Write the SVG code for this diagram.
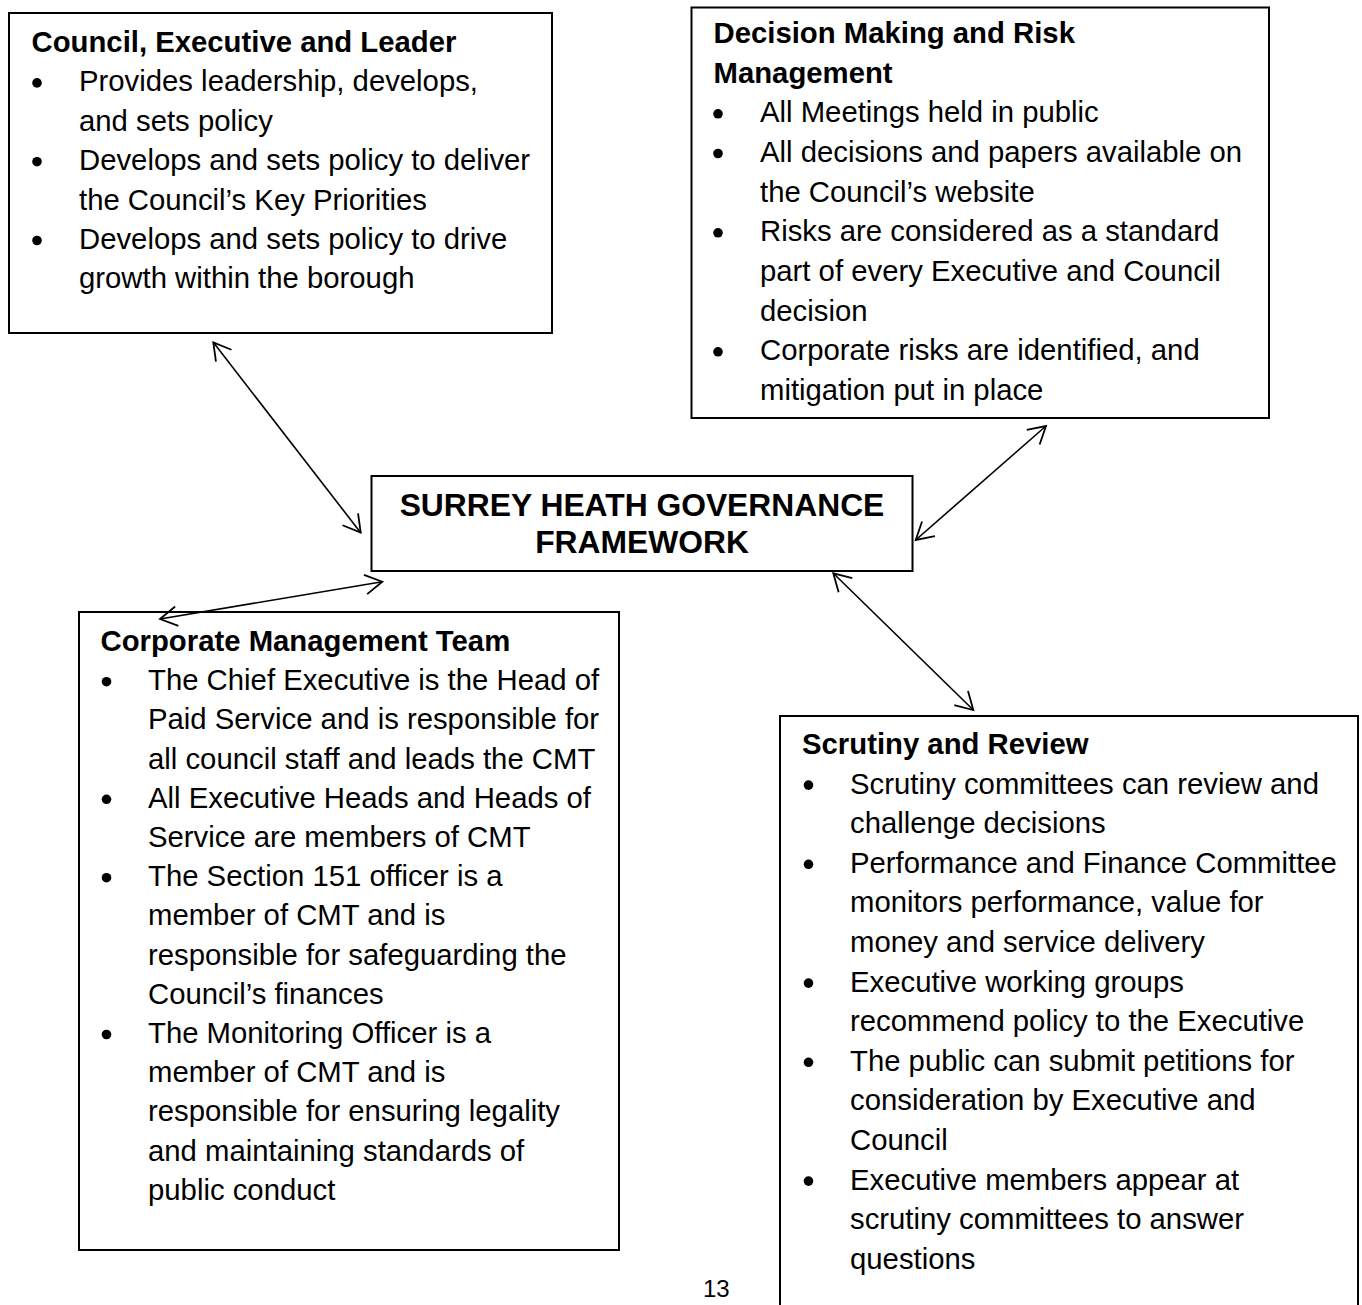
<svg xmlns="http://www.w3.org/2000/svg" width="1362" height="1305" viewBox="0 0 1362 1305">
<style>
.box{fill:none;stroke:#000;stroke-width:2}
.t{font-family:"Liberation Sans",Arial,sans-serif;font-size:29.3px;fill:#000}
.h{font-family:"Liberation Sans",Arial,sans-serif;font-size:29.3px;font-weight:bold;fill:#000}
.c{font-family:"Liberation Sans",Arial,sans-serif;font-size:31.8px;font-weight:bold;fill:#000;text-anchor:middle}
.pg{font-family:"Liberation Sans",Arial,sans-serif;font-size:24px;fill:#000}
.b{fill:#000}
.conn{stroke:#000;stroke-width:1.6;fill:none;marker-start:url(#ah);marker-end:url(#ah)}
</style>
<defs>
<marker id="ah" markerUnits="userSpaceOnUse" viewBox="-20 -12 22 24" refX="0" refY="0" markerWidth="22" markerHeight="24" orient="auto-start-reverse" overflow="visible">
<path d="M-17,-9.8 L0,0 L-17,9.8" fill="none" stroke="#000" stroke-width="1.8"/>
</marker>
</defs>
<rect width="1362" height="1305" fill="#fff"/>

<g id="council">
<rect class="box" x="9" y="13" width="543" height="320"/>
<text class="h" x="31.5" y="52">Council, Executive and Leader</text>
<circle class="b" cx="37" cy="82.9" r="4.8"/>
<text class="t" x="79" y="91.4">Provides leadership, develops,</text>
<text class="t" x="79" y="130.8">and sets policy</text>
<circle class="b" cx="37" cy="161.7" r="4.8"/>
<text class="t" x="79" y="170.2">Develops and sets policy to deliver</text>
<text class="t" x="79" y="209.6">the Council’s Key Priorities</text>
<circle class="b" cx="37" cy="240.5" r="4.8"/>
<text class="t" x="79" y="249">Develops and sets policy to drive</text>
<text class="t" x="79" y="288.4">growth within the borough</text>
</g>

<g id="decision">
<rect class="box" x="691.5" y="7.5" width="577.5" height="410.5"/>
<text class="h" x="713.5" y="43">Decision Making and Risk</text>
<text class="h" x="713.5" y="82.7">Management</text>
<circle class="b" cx="718" cy="113.8" r="4.8"/>
<text class="t" x="760" y="122.3">All Meetings held in public</text>
<circle class="b" cx="718" cy="153.5" r="4.8"/>
<text class="t" x="760" y="162">All decisions and papers available on</text>
<text class="t" x="760" y="201.7">the Council’s website</text>
<circle class="b" cx="718" cy="232.8" r="4.8"/>
<text class="t" x="760" y="241.3">Risks are considered as a standard</text>
<text class="t" x="760" y="281">part of every Executive and Council</text>
<text class="t" x="760" y="320.7">decision</text>
<circle class="b" cx="718" cy="351.8" r="4.8"/>
<text class="t" x="760" y="360.3">Corporate risks are identified, and</text>
<text class="t" x="760" y="400">mitigation put in place</text>
</g>

<g id="framework">
<rect class="box" x="371.5" y="476" width="541" height="95"/>
<text class="c" x="642" y="516">SURREY HEATH GOVERNANCE</text>
<text class="c" x="642" y="553">FRAMEWORK</text>
</g>

<g id="cmt">
<rect class="box" x="79" y="612" width="540" height="638"/>
<text class="h" x="100.5" y="651">Corporate Management Team</text>
<circle class="b" cx="106.5" cy="681.7" r="4.8"/>
<text class="t" x="148" y="690.2">The Chief Executive is the Head of</text>
<text class="t" x="148" y="729.4">Paid Service and is responsible for</text>
<text class="t" x="148" y="768.6">all council staff and leads the CMT</text>
<circle class="b" cx="106.5" cy="799.3" r="4.8"/>
<text class="t" x="148" y="807.8">All Executive Heads and Heads of</text>
<text class="t" x="148" y="847">Service are members of CMT</text>
<circle class="b" cx="106.5" cy="877.7" r="4.8"/>
<text class="t" x="148" y="886.2">The Section 151 officer is a</text>
<text class="t" x="148" y="925.4">member of CMT and is</text>
<text class="t" x="148" y="964.6">responsible for safeguarding the</text>
<text class="t" x="148" y="1003.8">Council’s finances</text>
<circle class="b" cx="106.5" cy="1034.5" r="4.8"/>
<text class="t" x="148" y="1043">The Monitoring Officer is a</text>
<text class="t" x="148" y="1082.2">member of CMT and is</text>
<text class="t" x="148" y="1121.4">responsible for ensuring legality</text>
<text class="t" x="148" y="1160.6">and maintaining standards of</text>
<text class="t" x="148" y="1199.8">public conduct</text>
</g>

<g id="scrutiny">
<path class="box" d="M780,1310 V716 H1358 V1310"/>
<text class="h" x="802" y="754">Scrutiny and Review</text>
<circle class="b" cx="808.5" cy="785.1" r="4.8"/>
<text class="t" x="850" y="793.6">Scrutiny committees can review and</text>
<text class="t" x="850" y="833.2">challenge decisions</text>
<circle class="b" cx="808.5" cy="864.3" r="4.8"/>
<text class="t" x="850" y="872.8">Performance and Finance Committee</text>
<text class="t" x="850" y="912.4">monitors performance, value for</text>
<text class="t" x="850" y="952">money and service delivery</text>
<circle class="b" cx="808.5" cy="983.1" r="4.8"/>
<text class="t" x="850" y="991.6">Executive working groups</text>
<text class="t" x="850" y="1031.2">recommend policy to the Executive</text>
<circle class="b" cx="808.5" cy="1062.3" r="4.8"/>
<text class="t" x="850" y="1070.8">The public can submit petitions for</text>
<text class="t" x="850" y="1110.4">consideration by Executive and</text>
<text class="t" x="850" y="1150">Council</text>
<circle class="b" cx="808.5" cy="1181.1" r="4.8"/>
<text class="t" x="850" y="1189.6">Executive members appear at</text>
<text class="t" x="850" y="1229.2">scrutiny committees to answer</text>
<text class="t" x="850" y="1268.8">questions</text>
</g>

<g id="connectors">
<line class="conn" x1="213.3" y1="342.3" x2="360.7" y2="532.7"/>
<line class="conn" x1="160" y1="619" x2="382.3" y2="581.7"/>
<line class="conn" x1="1046" y1="426" x2="915.7" y2="540"/>
<line class="conn" x1="833.3" y1="573.3" x2="973.3" y2="710"/>
</g>

<text class="pg" x="703" y="1297">13</text>
</svg>
